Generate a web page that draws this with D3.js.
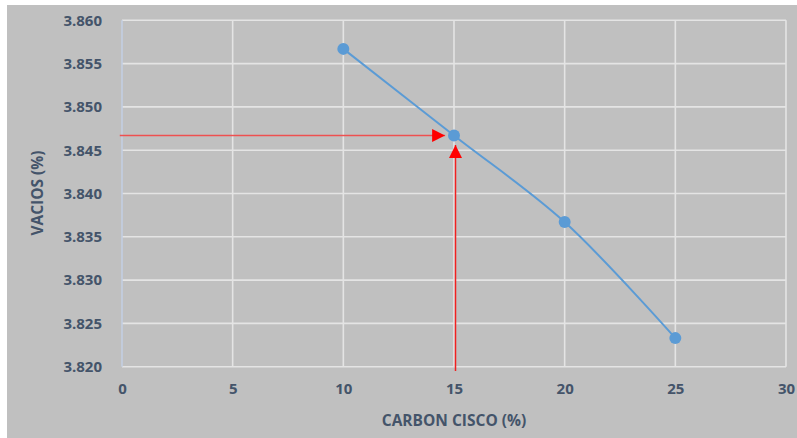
<!DOCTYPE html>
<html>
<head>
<meta charset="utf-8">
<script src="https://cdn.jsdelivr.net/npm/d3@7/dist/d3.min.js"></script>
<style>
  html, body { margin: 0; padding: 0; background: #ffffff; }
  svg { display: block; }
</style>
</head>
<body>
<svg id="chart" width="797" height="438"></svg>
<script>
// ---- data ----
const carbonCisco = [10, 15, 20, 25];
const vacios = [3.8567, 3.8467, 3.8367, 3.8233];
const xTicks = [0, 5, 10, 15, 20, 25, 30];
const yTicks = [3.820, 3.825, 3.830, 3.835, 3.840, 3.845, 3.850, 3.855, 3.860];
const xTitle = "CARBON CISCO (%)";
const yTitle = "VACIOS (%)";
// red reading arrows (data coordinates)
const arrowH = { x0: -0.1, x1: 14.6, y: 3.8467 };
const arrowV = { x: 15.05, y0: 3.8195, y1: 3.8456 };

// ---- layout ----
const W = 797, H = 438;
const svg = d3.select("#chart");
const textColor = "#44546a";
const font = "'Open Sans', 'Liberation Sans', sans-serif";

svg.append("rect").attr("x", 7).attr("y", 5).attr("width", W - 7).attr("height", H - 5)
  .attr("fill", "#c0c0c0");

const x = d3.scaleLinear().domain([0, 30]).range([122, 786]);
const y = d3.scaleLinear().domain([3.820, 3.860]).range([366.7, 20.3]);

// gridlines
const grid = svg.append("g");
grid.selectAll("line.h").data(yTicks).enter().append("line")
  .attr("x1", x(0)).attr("x2", x(30))
  .attr("y1", d => y(d)).attr("y2", d => y(d))
  .attr("stroke", "#e4e4e4").attr("stroke-width", 1.6);
grid.selectAll("line.v").data(xTicks.filter(d => d > 0)).enter().append("line")
  .attr("y1", y(3.820)).attr("y2", y(3.860))
  .attr("x1", d => x(d)).attr("x2", d => x(d))
  .attr("stroke", "#e4e4e4").attr("stroke-width", 1.6);
// left axis line
grid.append("line").attr("x1", x(0)).attr("x2", x(0))
  .attr("y1", y(3.820)).attr("y2", y(3.860))
  .attr("stroke", "#c3cfe2").attr("stroke-width", 1.6);

// axes labels via d3 axes
const yAxis = d3.axisLeft(y).tickValues(yTicks).tickFormat(d3.format(".3f")).tickSize(0).tickPadding(20);
const gy = svg.append("g").attr("transform", `translate(${x(0)},0)`).call(yAxis);
gy.select(".domain").remove();
gy.selectAll("text").attr("fill", textColor).attr("font-family", font)
  .attr("font-size", 15).attr("font-weight", "bold");

const xAxis = d3.axisBottom(x).tickValues(xTicks).tickFormat(d3.format("d")).tickSize(0).tickPadding(17);
const gx = svg.append("g").attr("transform", `translate(0,${y(3.820)})`).call(xAxis);
gx.select(".domain").remove();
gx.selectAll("text").attr("fill", textColor).attr("font-family", font)
  .attr("font-size", 15).attr("font-weight", "bold");

// titles
svg.append("text").attr("x", 454).attr("y", 426).attr("text-anchor", "middle")
  .attr("fill", textColor).attr("font-family", font).attr("font-size", 15.5)
  .attr("font-weight", "bold").text(xTitle);
svg.append("text").attr("transform", "translate(43,193) rotate(-90)").attr("text-anchor", "middle")
  .attr("fill", textColor).attr("font-family", font).attr("font-size", 15.5)
  .attr("font-weight", "bold").text(yTitle);

// red arrows
const red = "#ff0000";
const defs = svg.append("defs");
defs.append("marker").attr("id", "arr").attr("viewBox", "0 0 10 10")
  .attr("refX", 10).attr("refY", 5).attr("markerWidth", 13).attr("markerHeight", 13)
  .attr("markerUnits", "userSpaceOnUse").attr("orient", "auto")
  .append("path").attr("d", "M0,0 L10,5 L0,10 Z").attr("fill", red);

svg.append("line").attr("x1", x(arrowH.x0)).attr("x2", x(arrowH.x1))
  .attr("y1", Math.round(y(arrowH.y)) + 0.5).attr("y2", Math.round(y(arrowH.y)) + 0.5)
  .attr("stroke", "#ee5050").attr("stroke-width", 1.3).attr("marker-end", "url(#arr)");
svg.append("line").attr("x1", Math.round(x(arrowV.x)) + 0.5).attr("x2", Math.round(x(arrowV.x)) + 0.5)
  .attr("y1", y(arrowV.y0)).attr("y2", y(arrowV.y1))
  .attr("stroke", "#f02020").attr("stroke-width", 1.5).attr("marker-end", "url(#arr)");

// series line
const pts = carbonCisco.map((c, i) => [c, vacios[i]]);
const line = d3.line().x(d => x(d[0])).y(d => y(d[1])).curve(d3.curveCatmullRom.alpha(0.5));
svg.append("path").datum(pts).attr("d", line)
  .attr("fill", "none").attr("stroke", "#5b9bd5").attr("stroke-width", 2);
svg.selectAll("circle.pt").data(pts).enter().append("circle")
  .attr("cx", d => x(d[0])).attr("cy", d => y(d[1])).attr("r", 6)
  .attr("fill", "#5b9bd5");
</script>
</body>
</html>
